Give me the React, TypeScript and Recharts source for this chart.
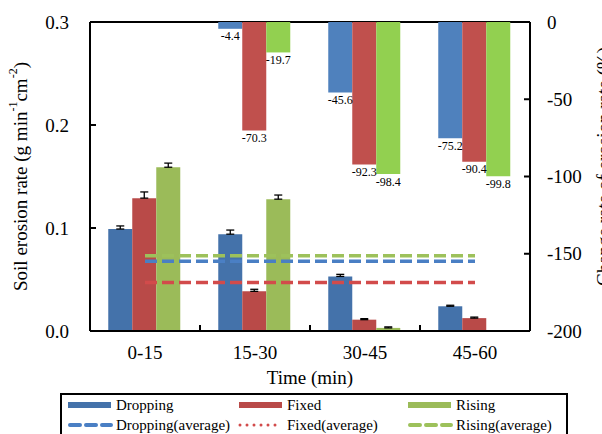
import React from 'react';
import { BarChart, Bar, ComposedChart, Line, XAxis, YAxis, ErrorBar, LabelList, ReferenceLine } from 'recharts';

const FONT = 'Liberation Serif';
const TXT = { fontFamily: FONT };

const categories = ['0-15', '15-30', '30-45', '45-60'];

// soil erosion rate (g min-1 cm-2)
const dropping = [0.099, 0.094, 0.053, 0.024];
const fixed = [0.129, 0.0385, 0.011, 0.0125];
const rising = [0.159, 0.128, 0.003, 0];

const droppingErr = [0.003, 0.004, 0.002, 0.001];
const fixedErr = [0.006, 0.002, 0.001, 0.001];
const risingErr = [0.004, 0.004, 0.001, 0];

// averages over the four periods
const droppingAvg = 0.0677;
const fixedAvg = 0.047;
const risingAvg = 0.073;

// change rate of erosion rate vs 0-15 (%)
const droppingChange = [null, -4.4, -45.6, -75.2];
const fixedChange = [null, -70.3, -92.3, -90.4];
const risingChange = [null, -19.7, -98.4, -99.8];

const leftTicks = [0, 0.1, 0.2, 0.3];
const rightTicks = [0, -50, -100, -150, -200];

const rows = categories.map((time, i) => ({
  time,
  dropping: dropping[i],
  fixed: fixed[i],
  rising: rising[i],
  droppingErr: [0, droppingErr[i]],
  fixedErr: [0, fixedErr[i]],
  risingErr: [0, risingErr[i]],
  droppingAvg,
  fixedAvg,
  risingAvg,
  droppingChange: droppingChange[i],
  fixedChange: fixedChange[i],
  risingChange: risingChange[i],
}));

const C = {
  dropBar: '#4472AA',
  fixBar: '#B94A48',
  riseBar: '#9BBB59',
  dropTop: '#4F81BD',
  fixTop: '#C0504D',
  riseTop: '#92D050',
  dropAvg: '#4A7FC4',
  fixAvg: '#D24B4B',
  riseAvg: '#9DC15B',
};

const W = 602;
const H = 434;

const LeftTick = (props: any) => {
  const { x, y, payload } = props;
  return (
    <g>
      <line x1={x} x2={x + 6} y1={y} y2={y} stroke="#000" strokeWidth={2} />
      <text x={x - 21} y={y} textAnchor="end" dominantBaseline="central" fontSize={19} fill="#000" style={TXT}>
        {Number(payload.value).toFixed(1)}
      </text>
    </g>
  );
};

const RightTick = (props: any) => {
  const { x, y, payload } = props;
  return (
    <g>
      <line x1={x} x2={x - 6} y1={y} y2={y} stroke="#000" strokeWidth={2} />
      <text x={x + 17} y={y} textAnchor="start" dominantBaseline="central" fontSize={19} fill="#000" style={TXT}>
        {payload.value}
      </text>
    </g>
  );
};

const TimeTick = (props: any) => {
  const { x, y, payload, index, width, visibleTicksCount } = props;
  const half = width && visibleTicksCount ? width / visibleTicksCount / 2 : 55;
  return (
    <g>
      {index > 0 && <line x1={x - half} x2={x - half} y1={y} y2={y - 6} stroke="#000" strokeWidth={2} />}
      <text x={x} y={y + 21} textAnchor="middle" dominantBaseline="central" fontSize={19} fill="#000" style={TXT}>
        {payload.value}
      </text>
    </g>
  );
};

const LeftTitle = (props: any) => {
  const vb = props.viewBox || {};
  const cx = vb.x + 10;
  const cy = vb.y + vb.height / 2;
  return (
    <text x={cx} y={cy} transform={`rotate(-90 ${cx} ${cy})`} textAnchor="middle" dominantBaseline="central" fontSize={19} fill="#000" style={TXT}>
      Soil erosion rate (g min<tspan dy={-7} fontSize={12}>-1</tspan><tspan dy={7}>cm</tspan><tspan dy={-7} fontSize={12}>-2</tspan><tspan dy={7}>)</tspan>
    </text>
  );
};

const RightTitle = (props: any) => {
  const vb = props.viewBox || {};
  const cx = vb.x + vb.width + 13;
  const cy = vb.y + vb.height / 2 - 10;
  return (
    <text x={cx} y={cy} transform={`rotate(-90 ${cx} ${cy})`} textAnchor="middle" dominantBaseline="central" fontSize={19} fill="#000" style={TXT}>
      Change rate of erosion rate (%)
    </text>
  );
};

const TimeTitle = (props: any) => {
  const vb = props.viewBox || {};
  return (
    <text x={vb.x + vb.width / 2} y={vb.y + 46} textAnchor="middle" dominantBaseline="central" fontSize={19} fill="#000" style={TXT}>
      Time (min)
    </text>
  );
};

const legendItems = [
  { label: 'Dropping', color: C.dropBar, kind: 'bar', col: 0, row: 0 },
  { label: 'Fixed', color: C.fixBar, kind: 'bar', col: 1, row: 0 },
  { label: 'Rising', color: C.riseBar, kind: 'bar', col: 2, row: 0 },
  { label: 'Dropping(average)', color: C.dropAvg, kind: 'dash', col: 0, row: 1 },
  { label: 'Fixed(average)', color: C.fixAvg, kind: 'dot', col: 1, row: 1 },
  { label: 'Rising(average)', color: C.riseAvg, kind: 'dash', col: 2, row: 1 },
];
const legendCols = [8, 179, 348];

const ChartLegend = () => (
  <div style={{ position: 'absolute', left: 60, top: 393, width: 508, height: 41, border: '2px solid #000', borderBottom: 'none', boxSizing: 'border-box', background: '#fff' }}>
    <svg width={504} height={39} style={{ display: 'block' }}>
      {legendItems.map((it) => {
        const x0 = legendCols[it.col] - 2;
        const y = it.row === 0 ? 10 : 30;
        return (
          <g key={it.label}>
            {it.kind === 'bar' && <line x1={x0} x2={x0 + 43} y1={y} y2={y} stroke={it.color} strokeWidth={6} />}
            {it.kind === 'dash' && <line x1={x0 + 2} x2={x0 + 43} y1={y} y2={y} stroke={it.color} strokeWidth={4} strokeDasharray="10 6" strokeLinecap="round" />}
            {it.kind === 'dot' && <line x1={x0 + 1} x2={x0 + 43} y1={y} y2={y} stroke={it.color} strokeWidth={3} strokeDasharray="0 7" strokeLinecap="round" />}
            <text x={x0 + 48} y={y} dominantBaseline="central" fontSize={15} fill="#000" style={TXT}>
              {it.label}
            </text>
          </g>
        );
      })}
    </svg>
  </div>
);

export default function App() {
  return (
    <div style={{ position: 'absolute', left: 0, top: 0, width: W, height: H, overflow: 'hidden', background: '#fff', fontFamily: FONT }}>
      <div style={{ position: 'absolute', left: 0, top: 0 }}>
        <ComposedChart width={W} height={H} data={rows} margin={{ top: 22, right: 72, bottom: 53, left: 10 }} barCategoryGap="16.6%" barGap={0}>
          <XAxis dataKey="time" height={50} axisLine={{ stroke: '#000', strokeWidth: 2 }} tickLine={false} tickSize={0} tickMargin={0} tick={<TimeTick />} label={<TimeTitle />} />
          <YAxis yAxisId="left" width={80} domain={[0, 0.3]} ticks={leftTicks} allowDataOverflow axisLine={{ stroke: '#000', strokeWidth: 2 }} tickLine={false} tickSize={0} tickMargin={0} tick={<LeftTick />} label={<LeftTitle />} />
          <ReferenceLine yAxisId="left" y={0.3} stroke="#000" strokeWidth={2} />
          <Bar yAxisId="left" dataKey="dropping" fill={C.dropBar} isAnimationActive={false}>
            <ErrorBar dataKey="droppingErr" direction="y" width={4} stroke="#000" strokeWidth={1.3} />
          </Bar>
          <Bar yAxisId="left" dataKey="fixed" fill={C.fixBar} isAnimationActive={false}>
            <ErrorBar dataKey="fixedErr" direction="y" width={4} stroke="#000" strokeWidth={1.3} />
          </Bar>
          <Bar yAxisId="left" dataKey="rising" fill={C.riseBar} isAnimationActive={false}>
            <ErrorBar dataKey="risingErr" direction="y" width={4} stroke="#000" strokeWidth={1.3} />
          </Bar>
          <Line yAxisId="left" dataKey="fixedAvg" stroke={C.fixAvg} strokeWidth={3.5} strokeDasharray="12 5" dot={false} activeDot={false} isAnimationActive={false} />
          <Line yAxisId="left" dataKey="droppingAvg" stroke={C.dropAvg} strokeWidth={3.5} strokeDasharray="12 5" dot={false} activeDot={false} isAnimationActive={false} />
          <Line yAxisId="left" dataKey="risingAvg" stroke={C.riseAvg} strokeWidth={3.5} strokeDasharray="12 5" dot={false} activeDot={false} isAnimationActive={false} />
        </ComposedChart>
      </div>
      <div style={{ position: 'absolute', left: 0, top: 0, pointerEvents: 'none' }}>
        <BarChart width={W} height={H} data={rows} margin={{ top: 22, right: 12, bottom: 103, left: 90 }} barCategoryGap="16.6%" barGap={0}>
          <XAxis dataKey="time" hide />
          <YAxis yAxisId="right" orientation="right" width={60} domain={[-200, 0]} ticks={rightTicks} axisLine={{ stroke: '#000', strokeWidth: 2 }} tickLine={false} tickSize={0} tickMargin={0} tick={<RightTick />} label={<RightTitle />} />
          <Bar yAxisId="right" dataKey="droppingChange" fill={C.dropTop} isAnimationActive={false}>
            <LabelList dataKey="droppingChange" position="top" offset={3} fontSize={12} fill="#000" style={TXT} />
          </Bar>
          <Bar yAxisId="right" dataKey="fixedChange" fill={C.fixTop} isAnimationActive={false}>
            <LabelList dataKey="fixedChange" position="top" offset={3} fontSize={12} fill="#000" style={TXT} />
          </Bar>
          <Bar yAxisId="right" dataKey="risingChange" fill={C.riseTop} isAnimationActive={false}>
            <LabelList dataKey="risingChange" position="top" offset={3} fontSize={12} fill="#000" style={TXT} />
          </Bar>
        </BarChart>
      </div>
      <ChartLegend />
    </div>
  );
}
